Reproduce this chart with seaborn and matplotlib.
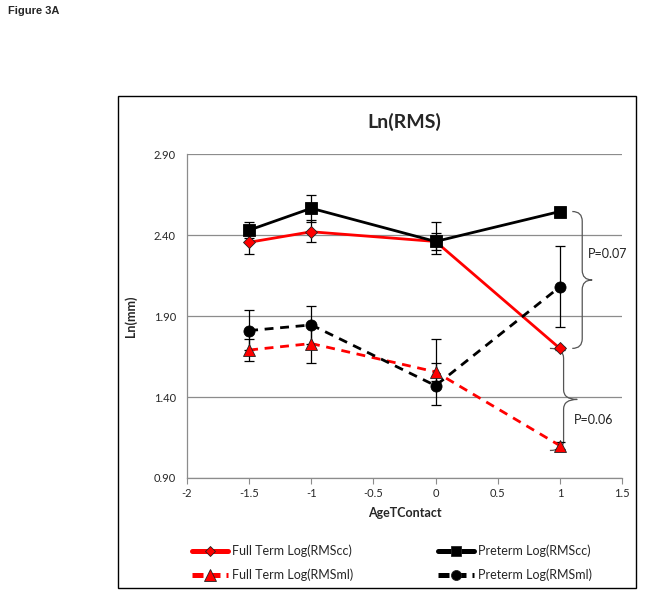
import numpy as np
import pandas as pd
import matplotlib
matplotlib.use("Agg")
import matplotlib.pyplot as plt
import seaborn as sns
from matplotlib.path import Path
from matplotlib.patches import PathPatch, Rectangle
from matplotlib.lines import Line2D

# ---- data ----
age = [-1.5, -1, 0, 1]
ft_cc = [2.355, 2.42, 2.36, 1.70]
pt_cc = [2.43, 2.565, 2.36, 2.545]
ft_ml = [1.69, 1.73, 1.555, 1.10]
pt_ml = [1.81, 1.845, 1.47, 2.08]

ft_cc_lo = [2.28, 2.355, 2.31, 1.69]
ft_cc_hi = [2.43, 2.49, 2.41, 1.71]
pt_cc_lo = [2.38, 2.48, 2.28, 2.535]
pt_cc_hi = [2.48, 2.65, 2.48, 2.555]
ft_ml_lo = [1.62, 1.61, 1.50, 1.08]
ft_ml_hi = [1.76, 1.85, 1.61, 1.12]
pt_ml_lo = [1.69, 1.73, 1.35, 1.83]
pt_ml_hi = [1.94, 1.96, 1.76, 2.33]

yticks = [0.90, 1.40, 1.90, 2.40, 2.90]
xticks = [-2, -1.5, -1, -0.5, 0, 0.5, 1, 1.5]

series = [
    ("Full Term Log(RMScc)", ft_cc, ft_cc_lo, ft_cc_hi, "#FF0000", "-", "D", 6),
    ("Full Term Log(RMSml)", ft_ml, ft_ml_lo, ft_ml_hi, "#FF0000", "--", "^", 9),
    ("Preterm Log(RMScc)", pt_cc, pt_cc_lo, pt_cc_hi, "#000000", "-", "s", 8),
    ("Preterm Log(RMSml)", pt_ml, pt_ml_lo, pt_ml_hi, "#000000", "--", "o", 8),
]

sns.set_style("white")
plt.rcParams['font.family'] = ['Lato', 'DejaVu Sans']

fig = plt.figure(figsize=(6.45, 5.95), dpi=100)
ax = fig.add_axes([187/645, 1-478/595, (622-187)/645, (478-154)/595])

# outer frame
fig.patches.append(Rectangle((118/645, 1-588/595), (636-118)/645, (588-96)/595,
                             transform=fig.transFigure, fill=False, ec="#000000", lw=1.0))

handles = []
for name, vals, lo, hi, col, ls, mk, ms in series:
    df = pd.DataFrame({"age": age, "val": vals})
    vals_a = np.array(vals)
    yerr = [vals_a - np.array(lo), np.array(hi) - vals_a]
    ax.errorbar(age, vals, yerr=yerr, fmt="none", ecolor="black", elinewidth=0.9,
                capsize=3.5, capthick=0.9, zorder=2)
    sns.lineplot(data=df, x="age", y="val", ax=ax, color=col, linewidth=2.0,
                 linestyle=ls, marker=mk, markersize=ms,
                 markeredgecolor="#222222" if col != "#000000" else "black",
                 markeredgewidth=0.6, markerfacecolor=col, zorder=3, legend=False)
    if ls == "--":
        ax.lines[-1].set_dashes((3.2, 2.4))
    handles.append(Line2D([0], [0], color=col, lw=3.6, linestyle=ls, marker=mk,
                          markersize=ms * 0.9, markerfacecolor=col, markeredgecolor="#222222",
                          markeredgewidth=0.6, dashes=(2.2, 1.2) if ls == "--" else (None, None)))

ax.set_xlim(-2, 1.5)
ax.set_ylim(0.90, 2.90)
ax.set_xticks(xticks)
ax.set_xticklabels([f"{t:g}" for t in xticks])
ax.set_yticks(yticks)
ax.set_yticklabels([f"{t:.2f}" for t in yticks])
ax.yaxis.grid(True, color="#8c8c8c", lw=0.9)
ax.xaxis.grid(False)
for s in ["top", "right"]:
    ax.spines[s].set_visible(False)
for s in ["left", "bottom"]:
    ax.spines[s].set_color("#8c8c8c")
    ax.spines[s].set_linewidth(0.9)
ax.tick_params(axis="x", length=4, color="#8c8c8c", labelsize=8, pad=3, bottom=True)
ax.tick_params(axis="y", length=0, labelsize=8, pad=8)
ax.set_xlabel("AgeTContact", fontsize=9, fontweight="bold", labelpad=6)
ax.set_ylabel("Ln(mm)", fontsize=9, fontweight="bold", labelpad=12)

fig.text(404/645, 1-122/595, "Ln(RMS)", ha="center", va="center", fontsize=14, fontweight="bold")
fig.text(8/645, 1-11/595, "Figure 3A", ha="left", va="center", fontsize=8, fontweight="bold",
         family=["Liberation Sans", "DejaVu Sans"])


def brace(ax, x, y_top, y_bot, w, color="#555555"):
    """Curly brace opening left, tip pointing right; x in data units, w in data units."""
    ym = (y_top + y_bot) / 2
    r = min(0.06, (y_top - y_bot) / 4)
    xv = x + w * 0.5
    verts = [
        (x, y_top), (xv, y_top), (xv, y_top - r),
        (xv, ym + r),
        (xv, ym), (x + w, ym),
        (xv, ym), (xv, ym - r),
        (xv, y_bot + r),
        (xv, y_bot), (x, y_bot),
    ]
    codes = [Path.MOVETO, Path.CURVE3, Path.CURVE3, Path.LINETO,
             Path.CURVE3, Path.CURVE3, Path.CURVE3, Path.CURVE3,
             Path.LINETO, Path.CURVE3, Path.CURVE3]
    ax.add_patch(PathPatch(Path(verts, codes), fill=False, ec=color, lw=0.9, clip_on=False))


brace(ax, 1.10, 2.545, 1.70, 0.16)
brace(ax, 0.92, 1.70, 1.07, 0.22)
ax.text(1.385, 2.28, "P=0.07", ha="center", va="center", fontsize=9, color="#222222")
ax.text(1.27, 1.26, "P=0.06", ha="center", va="center", fontsize=9, color="#222222")

leg = fig.legend(handles, [s[0] for s in series], ncol=2, loc="center",
                 bbox_to_anchor=(392/645, 1-563/595), frameon=False, fontsize=9,
                 handlelength=2.9, columnspacing=6.8, labelspacing=0.95, handletextpad=0.3)

fig.savefig("out.png", dpi=100)
